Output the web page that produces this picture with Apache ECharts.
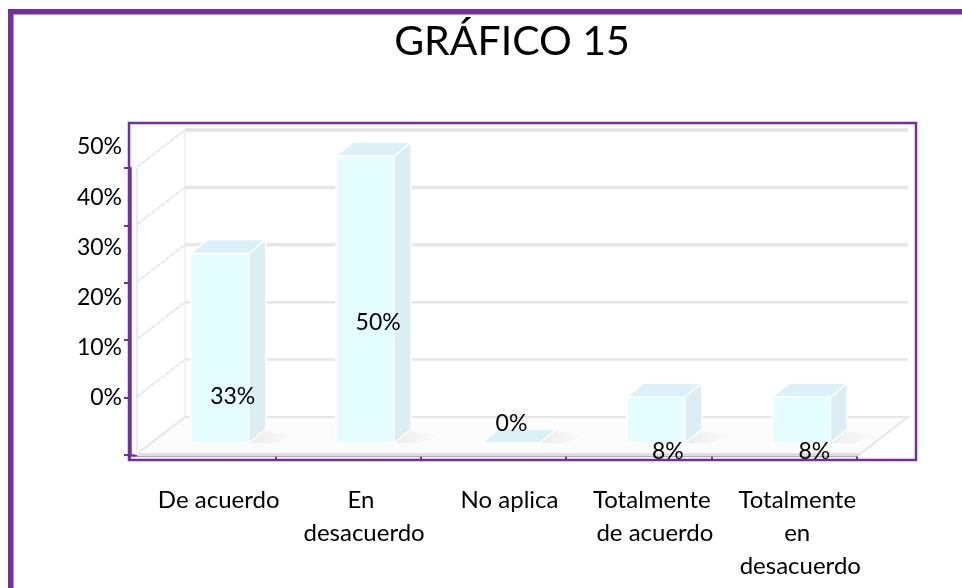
<!DOCTYPE html>
<html><head><meta charset="utf-8">
<script src="https://cdn.jsdelivr.net/npm/echarts@6/dist/echarts.min.js"></script>
<style>html,body{margin:0;padding:0;background:#fff}#c{width:962px;height:588px}</style>
</head><body><div id="c"></div>
<script>
// ---- data ----
const titleText = 'GRÁFICO 15';
const categories = ['De acuerdo', 'En desacuerdo', 'No aplica', 'Totalmente de acuerdo', 'Totalmente en desacuerdo'];
const values = [33, 50, 0, 8, 8];
const valueLabels = ['33%', '50%', '0%', '8%', '8%'];
const yTickLabels = ['0%', '10%', '20%', '30%', '40%', '50%'];

// ---- styling / layout ----
const PURPLE = '#7030A0';
const FONT = 'Lato';
const BAR_W = 58, BAR_SHIFT = 17, FLOOR_LIFT = 12, DX = 17, DY = -14;
const WALL_DX = 48, WALL_DY = -37;
// label nudges (px) relative to band centre / zero line, as placed in the original
const labelNudge = [[30, -58], [30, -132], [18, -31], [29, -3], [30, -3]];

const chart = echarts.init(document.getElementById('c'), null, {renderer: 'canvas'});

function renderBackground(params, api) {
  const cs = params.coordSys;
  const ch = [];
  const lx = cs.x + 7;
  const rx = cs.x + cs.width + 3;
  const y0 = api.coord([0, 0])[1] - 1;
  const y50 = api.coord([0, 50])[1];
  // floor
  ch.push({type: 'polygon', shape: {points: [[lx, y0], [rx, y0], [rx + WALL_DX, y0 + WALL_DY], [lx + WALL_DX, y0 + WALL_DY]]},
    style: {fill: '#fcfcfc', stroke: '#e6e6e6', lineWidth: 2}});
  ch.push({type: 'line', shape: {x1: lx, y1: y0 + 1, x2: rx, y2: y0 + 1}, style: {stroke: '#dedede', lineWidth: 3}});
  // left wall verticals
  ch.push({type: 'line', shape: {x1: lx, y1: y50, x2: lx, y2: y0}, style: {stroke: '#ececec', lineWidth: 2}});
  ch.push({type: 'line', shape: {x1: lx + WALL_DX, y1: y50 + WALL_DY, x2: lx + WALL_DX, y2: y0 + WALL_DY}, style: {stroke: '#eeeeee', lineWidth: 1.5}});
  for (let v = 0; v <= 50; v += 10) {
    const y = api.coord([0, v])[1] - 1;
    // diagonal on left wall
    ch.push({type: 'line', shape: {x1: lx, y1: y, x2: lx + WALL_DX, y2: y + WALL_DY}, style: {stroke: '#e8e8e8', lineWidth: 2, lineDash: [5, 1]}});
    // back wall gridline
    if (v > 0) ch.push({type: 'line', shape: {x1: lx + WALL_DX, y1: y + WALL_DY, x2: rx + WALL_DX, y2: y + WALL_DY}, style: {stroke: v === 50 ? '#e2e2e2' : '#e6e6e6', lineWidth: v >= 30 ? 3.5 : 2.5}});
  }
  return {type: 'group', children: ch};
}

function renderBar(params, api) {
  const i = params.dataIndex;
  const v = api.value(1);
  const base = api.coord([i, 0]);
  const top = api.coord([i, v]);
  const cx = base[0] + BAR_SHIFT;
  const x0 = cx - BAR_W / 2, x1 = cx + BAR_W / 2;
  const yb = base[1] - FLOOR_LIFT, yt = top[1] - FLOOR_LIFT;
  const ch = [];
  // soft shadow on floor
  ch.push({type: 'polygon', shape: {points: [[x1 - 4, yb], [x1 + DX - 2, yb + DY + 2], [x1 + DX + 30, yb + DY + 6], [x1 + 24, yb]]},
    style: {fill: new echarts.graphic.LinearGradient(0, 0, 1, 0, [{offset: 0, color: 'rgba(0,0,0,0.07)'}, {offset: 1, color: 'rgba(0,0,0,0)'}]),
      shadowBlur: 6, shadowColor: 'rgba(0,0,0,0.05)'}});
  if (yb - yt > 0.5) {
    ch.push({type: 'rect', shape: {x: x0, y: yt, width: BAR_W, height: yb - yt}, style: {fill: '#E4FEFF', stroke: '#ffffff', lineWidth: 1.5}});
    ch.push({type: 'polygon', shape: {points: [[x1, yb], [x1 + DX, yb + DY], [x1 + DX, yt + DY], [x1, yt]]}, style: {fill: '#DAEEF3', stroke: '#ffffff', lineWidth: 1.5}});
  }
  ch.push({type: 'polygon', shape: {points: [[x0, yt], [x0 + DX, yt + DY], [x1 + DX, yt + DY], [x1, yt]]}, style: {fill: '#DCF1F7', stroke: '#ffffff', lineWidth: 1.5}});
  const n = labelNudge[i];
  ch.push({type: 'text', x: base[0] + n[0], y: base[1] + n[1],
    style: {text: valueLabels[i], fill: '#000', font: '23px ' + FONT, align: 'center', verticalAlign: 'middle'}});
  return {type: 'group', children: ch};
}

const option = {
  backgroundColor: '#ffffff',
  animation: false,
  title: {text: titleText, left: 507, textAlign: 'center', top: 16,
    textStyle: {fontFamily: FONT, fontSize: 41, fontWeight: 'normal', color: '#000'}},
  grid: [
    {left: 130, right: 105, top: 168, bottom: 133},
    {left: 129, width: 10, top: 147, bottom: 190}
  ],
  xAxis: [
    {type: 'category', gridIndex: 0, data: categories, boundaryGap: true, offset: 5,
      axisLine: {lineStyle: {color: PURPLE, width: 2.5}},
      axisTick: {show: true, interval: 0, length: 5, lineStyle: {color: PURPLE, width: 2}},
      axisLabel: {interval: 0, margin: 24, color: '#000', fontFamily: FONT, fontSize: 24, lineHeight: 33,
        width: 138, overflow: 'break', padding: [0, 0, 0, 32]},
      splitLine: {show: false}},
    {type: 'value', gridIndex: 1, show: false}
  ],
  yAxis: [
    {type: 'value', gridIndex: 0, min: 0, max: 50, interval: 10,
      axisLine: {show: true, lineStyle: {color: PURPLE, width: 2.5}},
      axisTick: {show: true, length: 6, lineStyle: {color: PURPLE, width: 2}},
      axisLabel: {show: false}, splitLine: {show: false}},
    {type: 'value', gridIndex: 1, min: 0, max: 50, interval: 10,
      axisLine: {show: false}, axisTick: {show: false}, splitLine: {show: false},
      axisLabel: {margin: 7, color: '#000', fontFamily: FONT, fontSize: 23,
        formatter: (val) => yTickLabels[Math.round(val / 10)]}}
  ],
  series: [
    {type: 'custom', xAxisIndex: 0, yAxisIndex: 0, z: 1, silent: true, data: [[0, 0]], renderItem: renderBackground},
    {type: 'custom', xAxisIndex: 0, yAxisIndex: 0, z: 2, data: values.map((v, i) => [i, v]), renderItem: renderBar}
  ],
  graphic: [
    {type: 'rect', shape: {x: 129, y: 123, width: 787, height: 337}, style: {fill: null, stroke: PURPLE, lineWidth: 2.5}, z: 10, silent: true},
    {type: 'rect', shape: {x: 8, y: 9, width: 5, height: 600}, style: {fill: PURPLE}, z: 10, silent: true},
    {type: 'rect', shape: {x: 8, y: 9, width: 960, height: 5}, style: {fill: PURPLE}, z: 10, silent: true},
    {type: 'rect', shape: {x: 13, y: 14, width: 1, height: 600}, style: {fill: '#b690d2'}, z: 10, silent: true},
    {type: 'rect', shape: {x: 13, y: 14, width: 960, height: 1}, style: {fill: '#b690d2'}, z: 10, silent: true}
  ]
};
chart.setOption(option);
</script>
</body></html>
